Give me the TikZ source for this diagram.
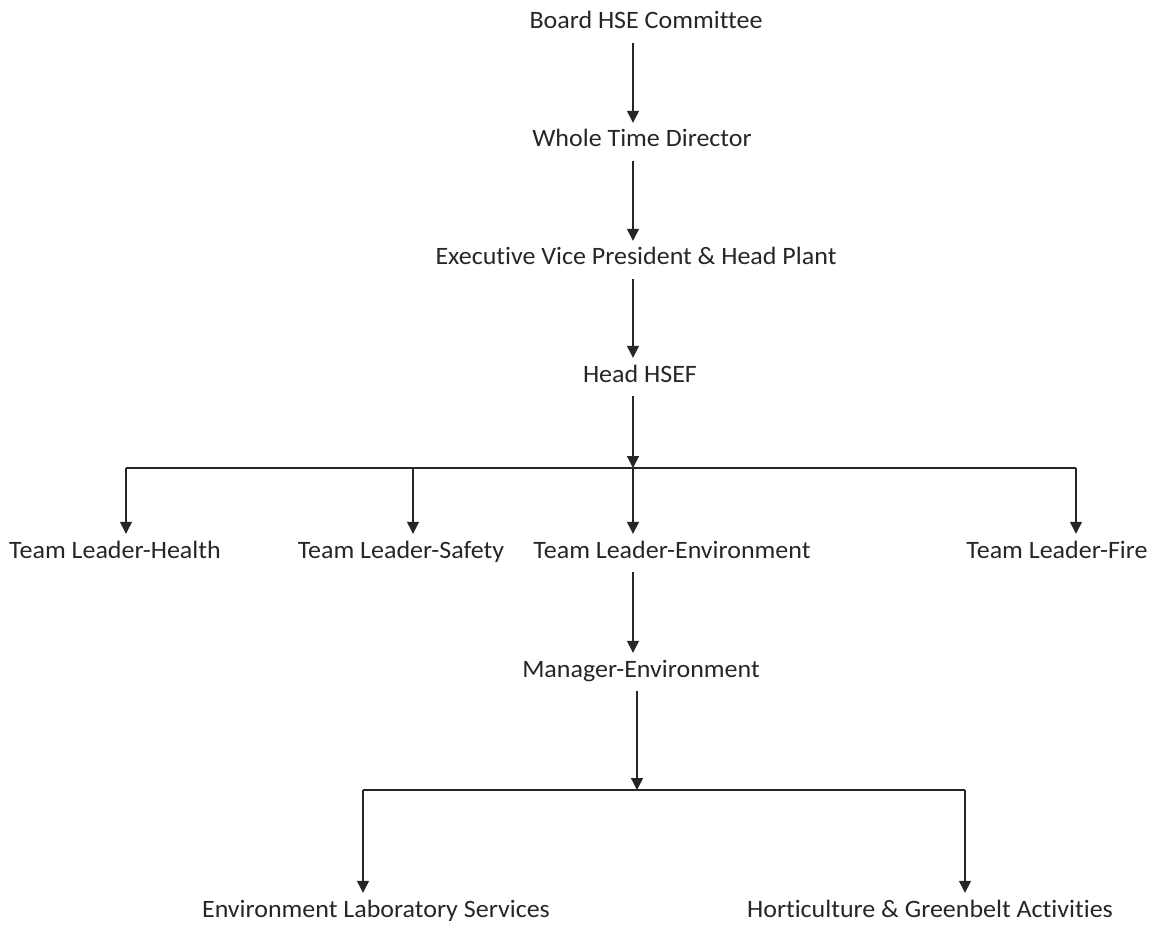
\documentclass[tikz,border=0pt]{standalone}
\usepackage{fontspec}
\setmainfont{Carlito}[Ligatures=NoCommon, FakeStretch=1.04]
\usetikzlibrary{arrows.meta}
\tikzset{
  lbl/.style={anchor=base, inner xsep=2pt, inner ysep=8pt, text height=16pt, text depth=6pt,
    font=\fontsize{25}{30}\selectfont, text=black!85},
  arr/.style={-{Triangle[width=12pt,length=12pt]}, line width=1.3pt, draw=black!85},
  bus/.style={line width=2pt, draw=black!85}
}
\begin{document}
\begin{tikzpicture}[x=1pt,y=-1pt]
  \useasboundingbox (0,0) rectangle (1156,925);
  \node[lbl] (board) at (646,29) {Board HSE Committee};
  \node[lbl] (wtd) at (642,147) {Whole Time Director};
  \node[lbl] (evp) at (636,265) {Executive Vice President \& Head Plant};
  \node[lbl] (hsef) at (640,382) {Head HSEF};
  \node[lbl] (tlh) at (115,558) {Team Leader-Health};
  \node[lbl] (tls) at (401,558) {Team Leader-Safety};
  \node[lbl] (tle) at (672,558) {Team Leader-Environment};
  \node[lbl] (tlf) at (1057,558) {Team Leader-Fire};
  \node[lbl] (mgr) at (641,677) {Manager-Environment};
  \node[lbl] (lab) at (376,917) {Environment Laboratory Services};
  \node[lbl] (hort) at (930,917) {Horticulture \& Greenbelt Activities};

  % junctions
  \coordinate (busA) at (633,468);
  \coordinate (busAl) at (126,468);
  \coordinate (busAs) at (413,468);
  \coordinate (busAr) at (1076,468);
  \coordinate (busB) at (637,790);
  \coordinate (busBl) at (363,790);
  \coordinate (busBr) at (965,790);

  \draw[arr] (board.south -| busA) -- (wtd.north -| busA);
  \draw[arr] (wtd.south -| busA) -- (evp.north -| busA);
  \draw[arr] (evp.south -| busA) -- (hsef.north -| busA);
  \draw[arr] (hsef.south -| busA) -- (busA);
  \draw[bus] (busAl) -- (busAr);
  \draw[arr] (busAl) -- (busAl |- tlh.north);
  \draw[arr] (busAs) -- (busAs |- tls.north);
  \draw[arr] (busA) -- (busA |- tle.north);
  \draw[arr] (busAr) -- (busAr |- tlf.north);

  \draw[arr] (tle.south -| busA) -- (mgr.north -| busA);
  \draw[arr] (mgr.south -| busB) -- (busB);
  \draw[bus] (busBl) -- (busBr);
  \draw[arr] (busBl) -- (busBl |- lab.north);
  \draw[arr] (busBr) -- (busBr |- hort.north);
\end{tikzpicture}
\end{document}
